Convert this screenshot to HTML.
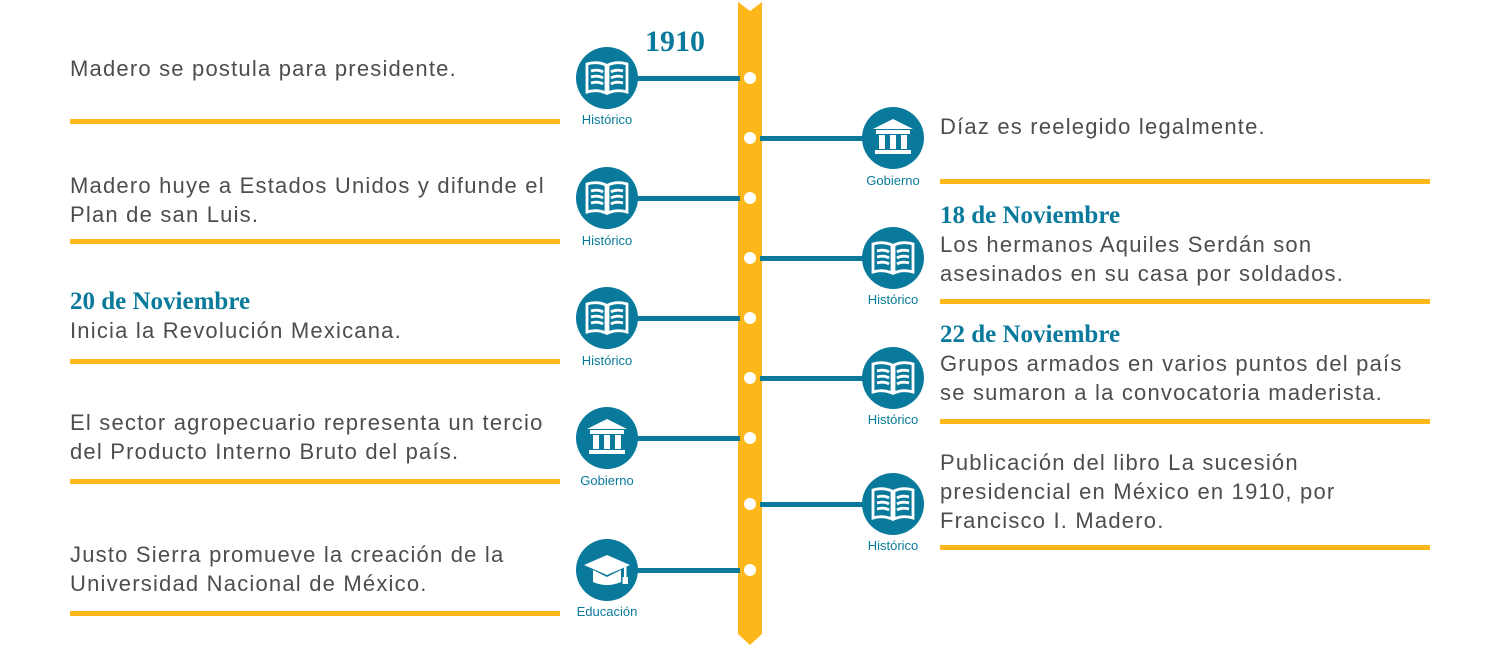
<!DOCTYPE html>
<html><head><meta charset="utf-8"><style>
body{margin:0;width:1500px;height:647px;background:#fff;position:relative;overflow:hidden;font-family:"Liberation Sans",sans-serif}
.t{position:absolute;font-size:22px;color:#4d4d4d;line-height:29px;white-space:nowrap;letter-spacing:1.2px}
.h{position:absolute;font-family:"Liberation Serif",serif;font-weight:bold;font-size:25px;color:#0a7a9c;line-height:28px;white-space:nowrap}
.y{position:absolute;height:5px;width:490px;background:#fdb71a}
.c{position:absolute;height:5px;background:#0a7a9c}
.d{position:absolute;width:12px;height:12px;border-radius:50%;background:#fff;left:744px}
.i{position:absolute;width:62px;height:62px}
.l{position:absolute;font-size:13px;color:#0a7a9c;width:90px;text-align:center}
</style></head><body>
<svg width="0" height="0" style="position:absolute"><defs>
<symbol id="book" viewBox="0 0 62 62"><circle cx="31" cy="31" r="31" fill="#0a7a9c"/>
<g fill="none" stroke="#fff" stroke-width="2.8"><path d="M11 17 Q21 14 30 18 V46 Q21 42 11 45 Z"/><path d="M51 17 Q41 14 32 18 V46 Q41 42 51 45 Z"/>
<path d="M15 24 Q22 22 27 25 M15 30 Q22 28 27 31 M15 36 Q22 34 27 37 M35 25 Q40 22 47 24 M35 31 Q40 28 47 30 M35 37 Q40 34 47 36"/></g></symbol>
<symbol id="gov" viewBox="0 0 62 62"><circle cx="31" cy="31" r="31" fill="#0a7a9c"/>
<g fill="#fff"><path d="M11 22 L31 12 L51 22 Z"/><rect x="14" y="23" width="34" height="4"/><rect x="17" y="28" width="6" height="14"/><rect x="28" y="28" width="6" height="14"/><rect x="39" y="28" width="6" height="14"/><rect x="13" y="43" width="36" height="4"/></g></symbol>
<symbol id="edu" viewBox="0 0 62 62"><circle cx="31" cy="31" r="31" fill="#0a7a9c"/>
<g fill="#fff"><path d="M8 26 L31 16 L54 26 L31 36 Z"/><path d="M17 31 V43 Q31 49 45 43 V31 L31 38 Z"/><rect x="48" y="27" width="2.5" height="12"/><rect x="46.5" y="38" width="5.5" height="7"/></g></symbol>
</defs></svg>

<svg style="position:absolute;left:738px;top:2px" width="24" height="644"><path d="M0 0 L12 9 L24 0 V632 L12 643 L0 632 Z" fill="#fdb71a"/></svg>

<div class="h" style="left:645px;top:28px;font-size:30px;width:80px">1910</div>

<div class="c" style="left:630px;width:110px;top:76px"></div>
<div class="c" style="left:630px;width:110px;top:196px"></div>
<div class="c" style="left:630px;width:110px;top:316px"></div>
<div class="c" style="left:630px;width:110px;top:436px"></div>
<div class="c" style="left:630px;width:110px;top:568px"></div>
<div class="c" style="left:760px;width:110px;top:136px"></div>
<div class="c" style="left:760px;width:110px;top:256px"></div>
<div class="c" style="left:760px;width:110px;top:376px"></div>
<div class="c" style="left:760px;width:110px;top:502px"></div>

<div class="d" style="top:72px"></div><div class="d" style="top:132px"></div><div class="d" style="top:192px"></div>
<div class="d" style="top:252px"></div><div class="d" style="top:312px"></div><div class="d" style="top:372px"></div>
<div class="d" style="top:432px"></div><div class="d" style="top:498px"></div><div class="d" style="top:564px"></div>

<svg class="i" style="left:576px;top:47px"><use href="#book"/></svg><div class="l" style="left:562px;top:112px">Histórico</div>
<svg class="i" style="left:576px;top:167px"><use href="#book"/></svg><div class="l" style="left:562px;top:233px">Histórico</div>
<svg class="i" style="left:576px;top:287px"><use href="#book"/></svg><div class="l" style="left:562px;top:353px">Histórico</div>
<svg class="i" style="left:576px;top:407px"><use href="#gov"/></svg><div class="l" style="left:562px;top:473px">Gobierno</div>
<svg class="i" style="left:576px;top:539px"><use href="#edu"/></svg><div class="l" style="left:562px;top:604px">Educación</div>
<svg class="i" style="left:862px;top:107px"><use href="#gov"/></svg><div class="l" style="left:848px;top:173px">Gobierno</div>
<svg class="i" style="left:862px;top:227px"><use href="#book"/></svg><div class="l" style="left:848px;top:292px">Histórico</div>
<svg class="i" style="left:862px;top:347px"><use href="#book"/></svg><div class="l" style="left:848px;top:412px">Histórico</div>
<svg class="i" style="left:862px;top:473px"><use href="#book"/></svg><div class="l" style="left:848px;top:538px">Histórico</div>

<div class="t" style="left:70px;top:54px">Madero se postula para presidente.</div>
<div class="y" style="left:70px;top:119px"></div>
<div class="t" style="left:70px;top:171px">Madero huye a Estados Unidos y difunde el<br>Plan de san Luis.</div>
<div class="y" style="left:70px;top:239px"></div>
<div class="h" style="left:70px;top:288px">20 de Noviembre</div>
<div class="t" style="left:70px;top:316px">Inicia la Revolución Mexicana.</div>
<div class="y" style="left:70px;top:359px"></div>
<div class="t" style="left:70px;top:408px">El sector agropecuario representa un tercio<br>del Producto Interno Bruto del país.</div>
<div class="y" style="left:70px;top:479px"></div>
<div class="t" style="left:70px;top:540px">Justo Sierra promueve la creación de la<br>Universidad Nacional de México.</div>
<div class="y" style="left:70px;top:611px"></div>

<div class="t" style="left:940px;top:112px">Díaz es reelegido legalmente.</div>
<div class="y" style="left:940px;top:179px"></div>
<div class="h" style="left:940px;top:202px">18 de Noviembre</div>
<div class="t" style="left:940px;top:230px">Los hermanos Aquiles Serdán son<br>asesinados en su casa por soldados.</div>
<div class="y" style="left:940px;top:299px"></div>
<div class="h" style="left:940px;top:321px">22 de Noviembre</div>
<div class="t" style="left:940px;top:349px">Grupos armados en varios puntos del país<br>se sumaron a la convocatoria maderista.</div>
<div class="y" style="left:940px;top:419px"></div>
<div class="t" style="left:940px;top:448px">Publicación del libro La sucesión<br>presidencial en México en 1910, por<br>Francisco I. Madero.</div>
<div class="y" style="left:940px;top:545px"></div>
</body></html>
